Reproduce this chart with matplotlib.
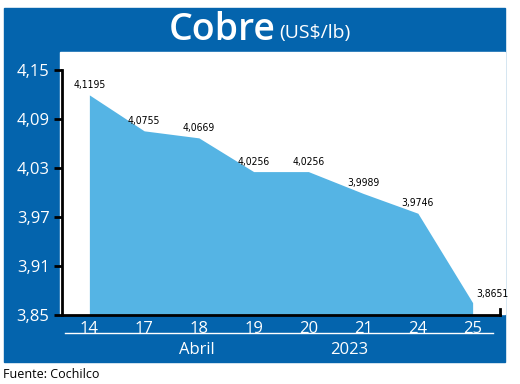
import matplotlib.pyplot as plt
from matplotlib.patches import Rectangle

days = ['14', '17', '18', '19', '20', '21', '24', '25']
prices = [4.1195, 4.0755, 4.0669, 4.0256, 4.0256, 3.9989, 3.9746, 3.8651]
labels = ['4,1195', '4,0755', '4,0669', '4,0256', '4,0256', '3,9989', '3,9746', '3,8651']
yticks = [3.85, 3.91, 3.97, 4.03, 4.09, 4.15]

W, H = 520, 384
dark = '#0464ad'
light = '#55b4e4'

fig = plt.figure(figsize=(5.2, 3.84), dpi=100)

def rect(x0, y0, x1, y1, color):
    # pixel coords, y from the top
    fig.patches.append(Rectangle((x0 / W, 1 - y1 / H), (x1 - x0) / W, (y1 - y0) / H,
                                 transform=fig.transFigure, color=color, zorder=-10))

rect(4, 8, 505, 362, dark)
rect(60, 52, 505, 314, 'white')

fig.text(276 / W, 1 - 30 / H, 'Cobre', color='white', fontsize=27, fontweight='semibold',
         family='Open Sans', ha='right', va='center')
fig.text(279 / W, 1 - 33 / H, '(US$/lb)', color='white', fontsize=14,
         family='Open Sans', ha='left', va='center')

ax = fig.add_axes([62 / W, 1 - 315 / H, (500 - 62) / W, (315 - 70) / H])
ax.patch.set_alpha(0)
x = list(range(len(days)))
ax.fill_between(x, prices, 3.85, color=light, lw=0)
ax.set_xlim(-0.5, 7.5)
ax.set_ylim(3.85, 4.15)
ax.set_yticks(yticks)
ax.set_yticklabels([f'{v:.2f}'.replace('.', ',') for v in yticks])
ax.tick_params(axis='y', colors='black', labelcolor='white', labelsize=12, length=6, width=2,
               direction='out', pad=3)
ax.set_xticks(x)
ax.set_xticklabels(days)
ax.tick_params(axis='x', length=0, labelcolor='white', labelsize=12, pad=4)
for s in ['top', 'right']:
    ax.spines[s].set_visible(False)
ax.spines['left'].set_linewidth(2)
ax.spines['bottom'].set_linewidth(2)
for lbl in ax.get_xticklabels() + ax.get_yticklabels():
    lbl.set_family('Open Sans')

# little upturn at the right end of the base line
ax.plot([7.5, 7.5], [3.85, 3.857], color='black', lw=2, clip_on=False)

for i, (p, t) in enumerate(zip(prices, labels)):
    if i == len(prices) - 1:
        ax.annotate(t, (i, p), xytext=(14, 4), textcoords='offset points', ha='center',
                    fontsize=7.5, family='DejaVu Sans', fontstretch='condensed')
    else:
        ax.annotate(t, (i, p), xytext=(0, 5), textcoords='offset points', ha='center',
                    fontsize=7.5, family='DejaVu Sans', fontstretch='condensed')

fig.add_artist(plt.Line2D([65 / W, 493 / W], [1 - 333 / H, 1 - 333 / H], color='white', lw=1))
fig.text(197 / W, 1 - 350 / H, 'Abril', color='white', fontsize=12, family='Open Sans',
         ha='center', va='center')
fig.text(349 / W, 1 - 350 / H, '2023', color='white', fontsize=12, family='Open Sans',
         ha='center', va='center')
fig.text(3 / W, 1 - 374 / H, 'Fuente: Cochilco', color='black', fontsize=9, family='Open Sans',
         ha='left', va='center')

fig.savefig('out.png', dpi=100)
